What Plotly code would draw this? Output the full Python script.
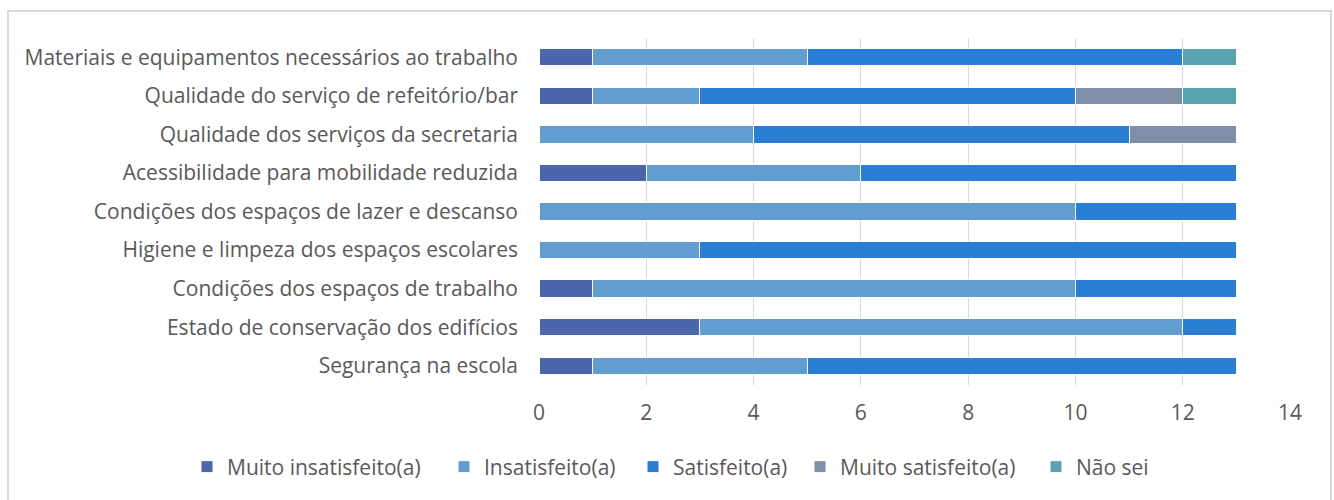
import plotly.graph_objects as go

categorias = [
    "Segurança na escola",
    "Estado de conservação dos edifícios",
    "Condições dos espaços de trabalho",
    "Higiene e limpeza dos espaços escolares",
    "Condições dos espaços de lazer e descanso",
    "Acessibilidade para mobilidade reduzida",
    "Qualidade dos serviços da secretaria",
    "Qualidade do serviço de refeitório/bar",
    "Materiais e equipamentos necessários ao trabalho",
]

muito_insatisfeito = [1, 3, 1, 0, 0, 2, 0, 1, 1]
insatisfeito = [4, 9, 9, 3, 10, 4, 4, 2, 4]
satisfeito = [8, 1, 3, 10, 3, 7, 7, 7, 7]
muito_satisfeito = [0, 0, 0, 0, 0, 0, 2, 2, 0]
nao_sei = [0, 0, 0, 0, 0, 0, 0, 1, 1]

series = [
    ("Muito insatisfeito(a)", muito_insatisfeito, "#4a66ac"),
    ("Insatisfeito(a)", insatisfeito, "#629dd1"),
    ("Satisfeito(a)", satisfeito, "#297fd5"),
    ("Muito satisfeito(a)", muito_satisfeito, "#7f8fa9"),
    ("Não sei", nao_sei, "#5aa2ae"),
]

# Plot area geometry (pixels) used to place legends and the outer frame
W, H = 1334, 500
ML, MR, MT, MB = 539, 44, 38, 115
PW, PH = W - ML - MR, H - MT - MB

# left edge (px) of each legend entry along the bottom row
legend_px = [187, 444, 633, 800, 1036]

font_txt = "'Open Sans', sans-serif"
txt_color = "#595959"
fsize = 21

fig = go.Figure()
legend_layouts = {}
for i, (nome, valores, cor) in enumerate(series):
    lg = "legend" if i == 0 else f"legend{i + 1}"
    fig.add_trace(go.Bar(
        y=categorias, x=valores, name=nome, orientation="h",
        marker=dict(color=cor, line=dict(color="white", width=1)),
        legend=lg, showlegend=True,
    ))
    legend_layouts[lg] = dict(
        orientation="h", x=(legend_px[i] - ML) / PW, xanchor="left",
        y=(MT + PH - 467) / PH, yanchor="middle",
        font=dict(family=font_txt, size=fsize, color=txt_color),
        bgcolor="rgba(0,0,0,0)", itemwidth=30, visible=True,
    )

fig.update_layout(
    barmode="stack",
    bargap=0.55,
    width=W, height=H,
    showlegend=True,
    margin=dict(l=ML, r=MR, t=MT, b=MB, autoexpand=False),
    paper_bgcolor="white", plot_bgcolor="white",
    font=dict(family=font_txt, size=fsize, color=txt_color),
    xaxis=dict(
        range=[0, 14], dtick=2, showgrid=True, gridcolor="#d9d9d9", gridwidth=1,
        zeroline=False, showline=False, ticks="",
        tickfont=dict(size=fsize, color=txt_color), ticklabelstandoff=13,
    ),
    yaxis=dict(
        showgrid=False, zeroline=False, showline=False, ticks="",
        ticklabelstandoff=20, tickfont=dict(size=fsize, color=txt_color),
    ),
    shapes=[dict(
        type="rect", xref="paper", yref="paper",
        x0=(8 - ML) / PW, x1=(1331 - ML) / PW,
        y0=-0.5, y1=(MT + PH - 11) / PH,
        line=dict(color="#d9d9d9", width=2), layer="below",
    )],
    **legend_layouts,
)

fig.write_html("out.html")
